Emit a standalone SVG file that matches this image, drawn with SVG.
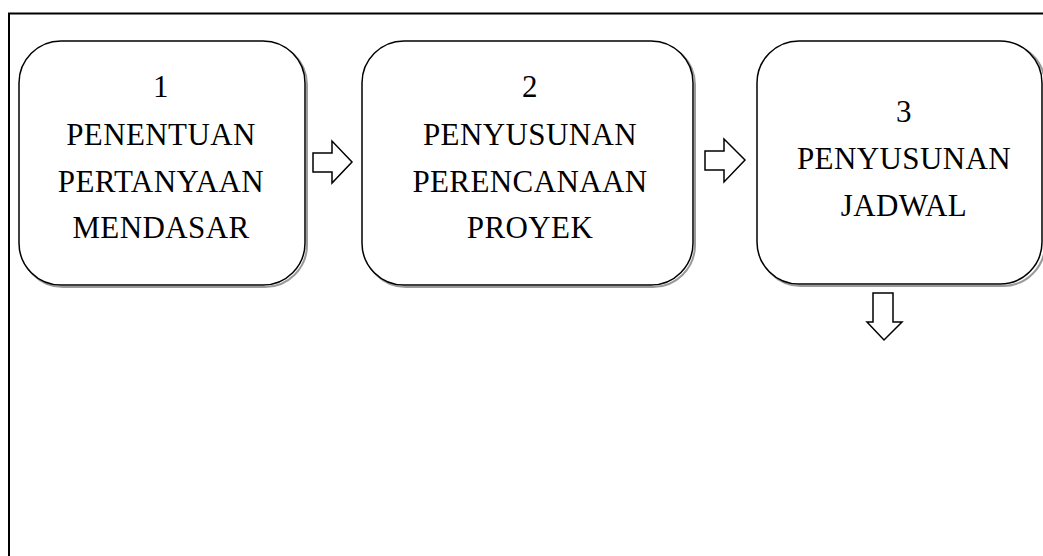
<svg xmlns="http://www.w3.org/2000/svg" width="1043" height="556" viewBox="0 0 1043 556">
<style>
.box{fill:#fff;stroke:#000;stroke-width:1.5}
.shadow{fill:none;stroke:#9a9a9a;stroke-width:2}
.lbl{font-family:"Liberation Serif","Times New Roman",serif;font-size:31px;letter-spacing:0.4px;fill:#000;text-anchor:middle}
.arrow{fill:#fff;stroke:#000;stroke-width:1.5;stroke-linejoin:miter}
.frame{fill:none;stroke:#000;stroke-width:2}
</style>
<rect width="1043" height="556" fill="#fff"/>
<g id="frame">
<path class="frame" d="M9,556 V13.5 H1043"/>
</g>
<g id="node1">
<rect class="shadow" x="21" y="43" width="286" height="244" rx="42"/>
<rect class="box" x="19" y="41" width="286" height="244" rx="42"/>
<text class="lbl" x="161" y="97">1</text>
<text class="lbl" x="161" y="145">PENENTUAN</text>
<text class="lbl" x="161" y="192">PERTANYAAN</text>
<text class="lbl" x="161" y="238">MENDASAR</text>
</g>
<g id="node2">
<rect class="shadow" x="364" y="43" width="331" height="244" rx="42"/>
<rect class="box" x="362" y="41" width="331" height="244" rx="42"/>
<text class="lbl" x="530" y="97">2</text>
<text class="lbl" x="530" y="145">PENYUSUNAN</text>
<text class="lbl" x="530" y="192">PERENCANAAN</text>
<text class="lbl" x="530" y="238">PROYEK</text>
</g>
<g id="node3">
<rect class="shadow" x="759" y="43" width="286" height="243" rx="42"/>
<rect class="box" x="757" y="41" width="285" height="243" rx="42"/>
<text class="lbl" x="904" y="122">3</text>
<text class="lbl" x="904" y="169">PENYUSUNAN</text>
<text class="lbl" x="904" y="216">JADWAL</text>
</g>
<g id="connectors">
<path class="arrow" d="M313,153 H332 V141 L352,162 L332,183 V172 H313 Z"/>
<path class="arrow" d="M705,151 H724 V139 L745,160 L724,182 V170 H705 Z"/>
<path class="arrow" d="M873,293 H893 V322 H902 L884,340 L867,322 H873 Z"/>
</g>
</svg>
